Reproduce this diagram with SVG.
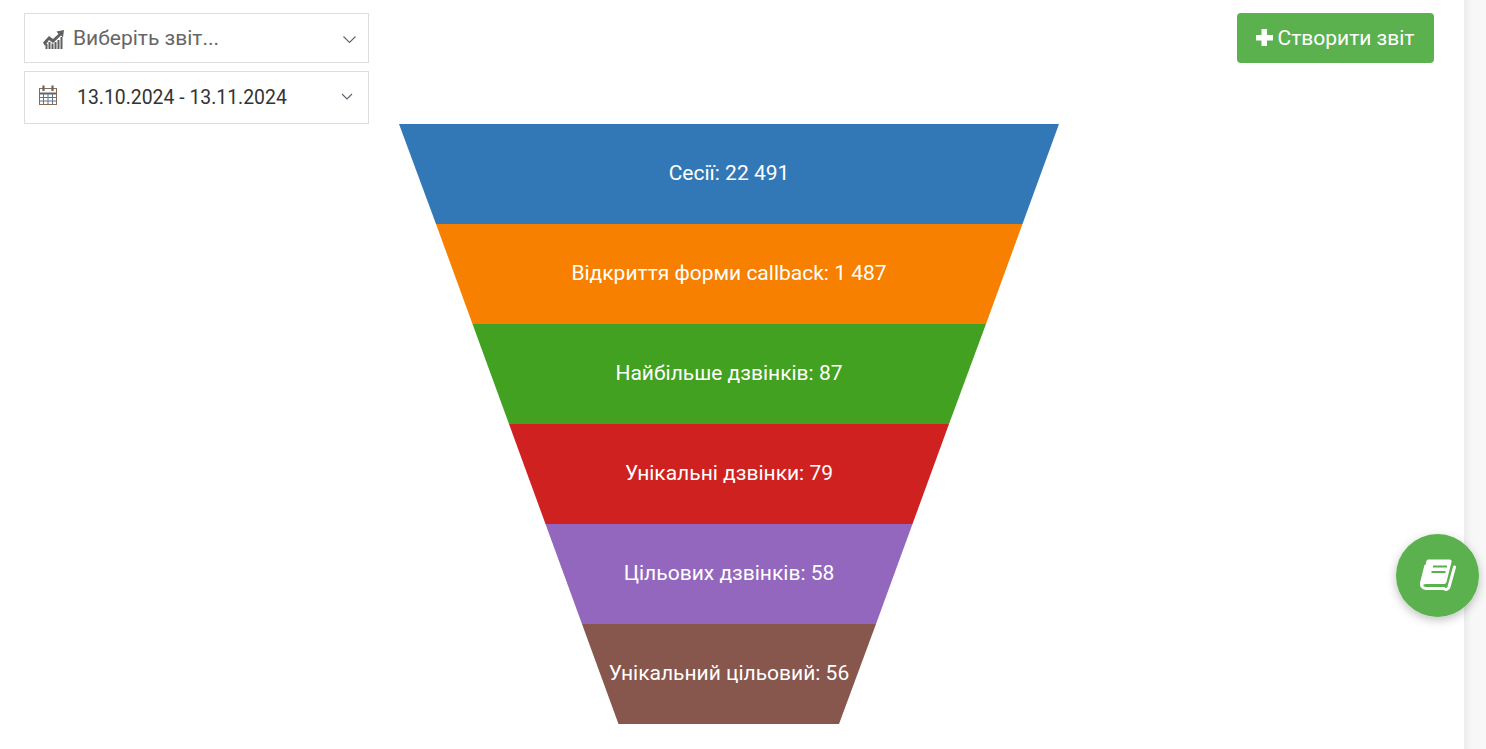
<svg xmlns="http://www.w3.org/2000/svg" width="1486" height="749" viewBox="0 0 1486 749">
<defs>
<linearGradient id="sb" x1="0" x2="1" y1="0" y2="0"><stop offset="0" stop-color="#ececec"/><stop offset="0.35" stop-color="#f7f7f7"/><stop offset="1" stop-color="#f8f8f8"/></linearGradient>
<filter id="sh" x="-30%" y="-30%" width="160%" height="170%"><feDropShadow dx="0" dy="3" stdDeviation="5" flood-color="#000" flood-opacity="0.25"/></filter>
</defs>
<style>
text{font-family:Roboto,"Liberation Sans",sans-serif}
.box{fill:#fff;stroke:#ddd;stroke-width:1}
.chev{fill:none;stroke:#5a6270;stroke-width:1.1}
.lab{fill:#fff;font-size:21px;text-anchor:middle}
</style>
<rect width="1486" height="749" fill="#fff"/>
<rect x="1464" y="0" width="22" height="749" fill="url(#sb)"/>
<g id="report-select">
<rect class="box" x="24.5" y="13.5" width="344" height="49"/>
<g fill="#606060">
<path d="M43 42.500L49 36L53 39L58.500 34L56.500 31.500L64 30L63 37.500L61 35.500L53 43L49 40L45 46Z"/>
<rect x="45.500" y="44" width="2" height="5"/><rect x="48.500" y="42" width="2" height="7"/><rect x="51.500" y="43.500" width="2" height="5.500"/><rect x="54.500" y="42" width="2" height="7"/><rect x="57.500" y="40" width="2" height="9"/><rect x="60.500" y="37" width="2" height="12"/>
</g>
<text x="73" y="45" font-size="21" fill="#666">Виберіть звіт...</text>
<path class="chev" d="M343.500 36.500L349.500 42.500L355.500 36.500"/>
</g>
<g id="date-select">
<rect class="box" x="24.500" y="71.500" width="344" height="52"/>
<g fill="none" stroke="#5b7490" stroke-width="1">
<rect x="39.500" y="88.500" width="17" height="16" stroke="#8a6a50"/>
<path d="M39.500 93.500H56.500" stroke="#666" stroke-width="2"/>
<path d="M39.500 97.500H56.500M39.500 101H56.500M43.500 94V104M48 94V104M52.500 94V104"/>
<path d="M43.500 85.500V91M52.500 85.500V91" stroke-width="2.200" stroke="#666"/>
</g>
<text x="77" y="104" font-size="19.400" fill="#333">13.10.2024 - 13.11.2024</text>
<path class="chev" d="M342 94L347 99L352 94"/>
</g>
<g id="create-report">
<rect x="1237" y="13" width="197" height="50" rx="4" fill="#5cb14f"/>
<path d="M1261.500 29H1267V35H1273V40.500H1267V46H1261.500V40.500H1256V35H1261.500Z" fill="#fff"/>
<text x="1277.500" y="45" font-size="21" fill="#fff">Створити звіт</text>
</g>
<g id="funnel">
<g id="stage-1"><polygon points="399,124 1059,124 1022.500,224 436,224" fill="#3278b7"/><text class="lab" x="729" y="180">Сесії: 22 491</text></g>
<g id="stage-2"><polygon points="436,224 1022.500,224 986,324 472.500,324" fill="#f88000"/><text class="lab" x="729" y="280">Відкриття форми callback: 1 487</text></g>
<g id="stage-3"><polygon points="472.500,324 986,324 949,424 509,424" fill="#42a121"/><text class="lab" x="729" y="380">Найбільше дзвінків: 87</text></g>
<g id="stage-4"><polygon points="509,424 949,424 912.500,524 545.500,524" fill="#cf2120"/><text class="lab" x="729" y="480">Унікальні дзвінки: 79</text></g>
<g id="stage-5"><polygon points="545.500,524 912.500,524 876,624 582,624" fill="#9367bd"/><text class="lab" x="729" y="580">Цільових дзвінків: 58</text></g>
<g id="stage-6"><polygon points="582,624 876,624 839,724 618.500,724" fill="#87564d"/><text class="lab" x="729" y="680">Унікальний цільовий: 56</text></g>
</g>
<g id="help-button">
<circle cx="1437.500" cy="575.500" r="41.500" fill="#5cb14f" filter="url(#sh)"/>
<path d="M1445 588.500H1426Q1421 588 1421.500 583L1426 565" fill="none" stroke="#fff" stroke-width="3"/>
<path d="M1445.500 589.500Q1448 589.500 1449 587L1454.500 567" fill="none" stroke="#fff" stroke-width="3" stroke-linecap="round"/>
<path d="M1428 559.500H1449.500Q1452 559.500 1451.500 562L1446.500 582Q1446 584 1444 584H1426Q1423 584 1421.500 587L1426 562.500Q1426.500 559.500 1428 559.500Z" fill="#fff"/>
<path d="M1433 566.500H1447M1431.500 572H1445.500" stroke="#5cb14f" stroke-width="2"/>
</g>
</svg>
